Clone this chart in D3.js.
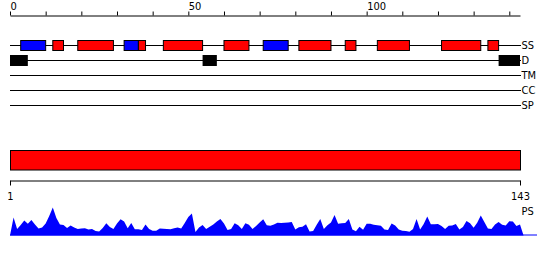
<!DOCTYPE html>
<html><head><meta charset="utf-8">
<script src="https://cdn.jsdelivr.net/npm/d3@7"></script>
<style>body{margin:0;background:#fff}text{font-family:"DejaVu Sans Condensed","DejaVu Sans",sans-serif;font-size:11px;fill:#000}</style>
</head><body>
<svg id="c" width="550" height="260"></svg>
<script>
const seqLength = 143;
const topTicks = [0,10,20,30,40,50,60,70,80,90,100,110,120,130,140];
const topTickLabels = ["0","","","","","50","","","","","100","","","",""];
const trackNames = ["SS","D","TM","CC","SP"];
// secondary structure segments: [start, end, type]
const ssStart = [3,12,19,32,36,43,60,71,81,94,103,121,134];
const ssEnd   = [10,15,29,36,38,54,67,78,90,97,112,132,137];
const ssType  = ["E","H","H","E","H","H","H","E","H","H","H","H","H"];
// disorder segments
const dStart = [0,54,137];
const dEnd   = [5,58,143];
const bottomTicks = [1,143];
const psLabel = "PS";
const psValues = [18,6.5,10.5,15,11.8,15.5,11.1,7,8,12,19.4,28,17.4,11,10.4,7.6,10,7.9,6.5,7,
7.2,6,6.4,4.5,4,7.6,12.3,8.4,6.6,12.1,16.3,14,7.2,12.5,6.3,6.2,5.6,11,6.6,4.7,
4.7,7,6.7,6.4,6.2,7.3,8,7,12.6,18.5,22,3.5,8.1,10.4,6.6,8.7,11,13.9,16.5,12,
5.5,6.5,12.3,10.3,6.5,12.3,10.8,6.5,9.5,12.9,16.2,10.2,9.7,11,12.8,12.4,12.8,12.9,13.6,6,
8.3,8.8,11.3,4,4.5,10.7,16.5,6.4,10.2,13,20.5,11.7,12.3,12.5,16.5,6,4.3,8.8,5.7,11.7,
11.7,10.8,10.2,9.8,5.9,5.5,12.1,10,6,4.7,4.5,3.7,6.5,16.5,6.1,11.5,19,11.2,11.3,11.4,
9.5,6.4,9.7,10,11.6,5.9,8.6,14.5,12.3,7.8,12.8,20,13.5,7,6.4,10.9,13.4,10.7,10,14.2,
14,9.6,11];

const colors = {E:"#0000ff", H:"#ff0000", D:"#000000"};
const svg = d3.select("#c");
const x = d3.scaleLinear().domain([0, seqLength]).range([10, 520]);
const xb = d3.scaleLinear().domain([1, seqLength]).range([10, 520]);

// top axis
const topAxis = d3.axisTop(x).tickValues(topTicks).tickSize(4).tickSizeOuter(0)
  .tickFormat((d,i)=>topTickLabels[i]);
const gTop = svg.append("g").attr("transform","translate(0,15.5)").call(topAxis);
gTop.select(".domain").attr("stroke","#000");
gTop.selectAll(".tick line").attr("stroke","#000");
gTop.selectAll(".tick text").attr("text-anchor","start").attr("dx","0").attr("y",-5.5).attr("dy","0").style("font-size","11px");
gTop.attr("font-family",null).attr("font-size",null);

// tracks
const trackY = d3.scalePoint().domain(trackNames).range([45.5, 105.5]);
const gT = svg.append("g");
trackNames.forEach(n=>{
  gT.append("line").attr("x1",x(0)).attr("x2",x(seqLength)+1).attr("y1",trackY(n)).attr("y2",trackY(n)).attr("stroke","#000");
  gT.append("text").attr("x",x(seqLength)+1.5).attr("y",trackY(n)).attr("dy","0.36em").text(n);
});
const ssData = ssStart.map((s,i)=>({s, e:ssEnd[i], t:ssType[i]}));
gT.selectAll("rect.ss").data(ssData).enter().append("rect").attr("class","ss")
  .attr("x",d=>x(d.s)).attr("width",d=>x(d.e)-x(d.s))
  .attr("y",trackY("SS")-5).attr("height",10)
  .attr("fill",d=>colors[d.t]).attr("stroke","#000");
const dData = dStart.map((s,i)=>({s, e:dEnd[i]}));
gT.selectAll("rect.d").data(dData).enter().append("rect").attr("class","d")
  .attr("x",d=>x(d.s)).attr("width",d=>x(d.e)-x(d.s))
  .attr("y",trackY("D")-5.5).attr("height",11)
  .attr("fill",colors.D);

// full-length bar
svg.append("rect").attr("x",x(0)+0.5).attr("width",x(seqLength)-x(0)).attr("y",150.5).attr("height",19.5)
  .attr("fill","#ff0000").attr("stroke","#000");

// bottom axis
const botAxis = d3.axisBottom(xb).tickValues(bottomTicks).tickSize(5).tickSizeOuter(0).tickFormat(d3.format("d"));
const gB = svg.append("g").attr("transform","translate(0,180.5)").call(botAxis);
gB.select(".domain").attr("stroke","#000");
gB.selectAll(".tick line").attr("stroke","#000");
gB.selectAll(".tick text").attr("y",19.5).attr("dy","0").style("font-size","11px");
gB.attr("font-family",null).attr("font-size",null);

// PS area
const y = d3.scaleLinear().domain([0, 28]).range([235.5, 207.5]);
const pts = [{i:0,v:0}].concat(psValues.map((v,k)=>({i:k+1,v})), [{i:seqLength+1,v:0}]);
const area = d3.area().x(d=>x(d.i)).y0(y(0)).y1(d=>y(d.v));
svg.append("path").datum(pts).attr("d",area).attr("fill","#0000ff");
svg.append("line").attr("x1",x(0)).attr("x2",537).attr("y1",y(0)-0.5).attr("y2",y(0)-0.5).attr("stroke","#0000ff");
svg.append("text").attr("x",x(seqLength)+1.5).attr("y",215).text(psLabel);
</script>
</body></html>
